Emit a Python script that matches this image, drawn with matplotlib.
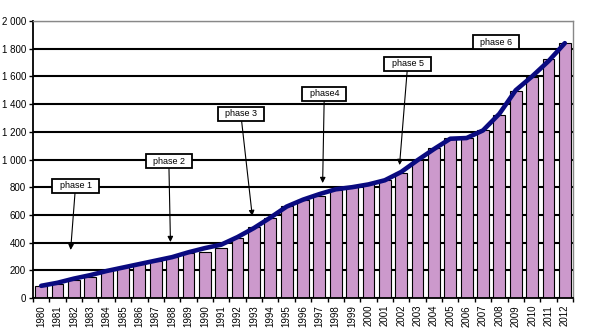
import matplotlib
matplotlib.use("Agg")
import matplotlib.pyplot as plt
import numpy as np

# 年ごとのデータ
years = list(range(1980, 2013))
bar_values = [90, 100, 130, 155, 200, 225, 245, 270, 295, 325, 335, 360,
              435, 510, 575, 665, 705, 740, 780, 800, 820, 855, 900, 995,
              1080, 1155, 1155, 1210, 1320, 1495, 1595, 1725, 1840]
line_values = [88, 110, 140, 165, 195, 220, 245, 270, 295, 330, 360, 385,
               440, 505, 580, 660, 710, 750, 785, 800, 820, 850, 910, 995,
               1075, 1150, 1155, 1210, 1330, 1500, 1600, 1710, 1840]
y_ticks = [0, 200, 400, 600, 800, 1000, 1200, 1400, 1600, 1800, 2000]

# フェーズ注釈 (ラベル, 矢印の先の年, 値, ボックス位置の年, 値)
phase_labels = ["phase 1", "phase 2", "phase 3", "phase4", "phase 5", "phase 6"]
phase_targets = [(1981.8, 347), (1987.9, 404), (1992.9, 592),
                 (1997.2, 830), (2001.9, 960), None]
phase_boxes = [(1982.1, 809), (1987.8, 989), (1992.2, 1329),
               (1997.3, 1473), (2002.4, 1690), (2007.8, 1848)]

plt.rcParams['font.family'] = ['Liberation Sans', 'DejaVu Sans']

fig = plt.figure(figsize=(5.94, 3.35), dpi=100)
ax = fig.add_axes([33 / 594, 1 - 298 / 335, 540 / 594, 277 / 335])

x = np.arange(len(years))
ax.bar(x, bar_values, width=0.72, color="#CC99CC", edgecolor="black",
       linewidth=0.8, zorder=2)
ax.plot(x, line_values, color="#0A0A80", linewidth=3.3,
        solid_capstyle="round", zorder=3)

# 注釈
for label, target, box in zip(phase_labels, phase_targets, phase_boxes):
    bx = box[0] - years[0]
    bbox = dict(boxstyle="square,pad=0.25", fc="white", ec="black", lw=1.3)
    if target is None:
        ax.text(bx, box[1], "  " + label + "  ", fontsize=6.5,
                ha="center", va="center", bbox=bbox, zorder=5)
    else:
        ax.annotate("  " + label + "  ", xy=(target[0] - years[0], target[1]),
                    xytext=(bx, box[1]), fontsize=6.5, ha="center",
                    va="center", bbox=bbox, zorder=5,
                    arrowprops=dict(arrowstyle="-|>", color="black", lw=0.8,
                                    mutation_scale=8, shrinkA=0, shrinkB=0))

ax.set_xlim(-0.5, len(years) - 0.5)
ax.set_ylim(0, 2000)
ax.set_yticks(y_ticks)
ax.set_yticklabels([f"{v:,}".replace(",", " ") for v in y_ticks], fontsize=7)
ax.set_xticks(x)
ax.set_xticklabels([str(y) for y in years], rotation=90, fontsize=7)
ax.set_xticks(np.arange(len(years) + 1) - 0.5, minor=True)
ax.tick_params(axis="x", which="major", length=0, pad=5)
ax.tick_params(axis="x", which="minor", length=3, width=1, color="black")
ax.tick_params(axis="y", length=3, width=1, pad=2)

ax.yaxis.grid(True, color="black", linewidth=1.5)
ax.set_axisbelow(True)
for side in ["left", "bottom"]:
    ax.spines[side].set_linewidth(1.3)
    ax.spines[side].set_color("black")
for side in ["top", "right"]:
    ax.spines[side].set_linewidth(1.0)
    ax.spines[side].set_color("#888888")

fig.savefig("out.png", dpi=100)
